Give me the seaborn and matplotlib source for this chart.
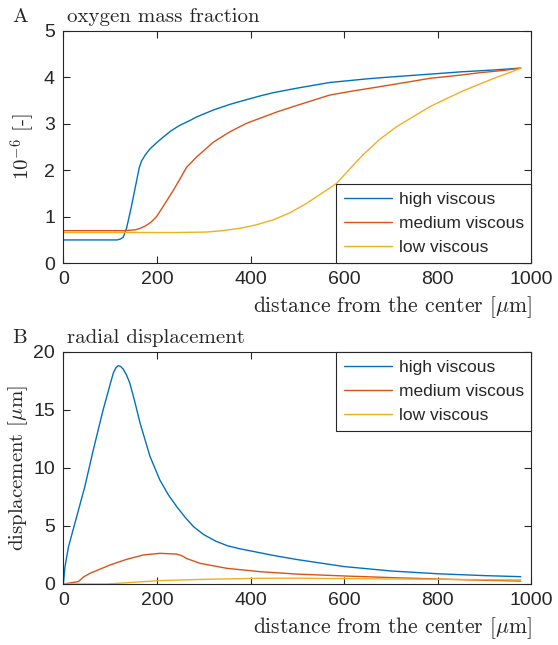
import matplotlib
matplotlib.use("Agg")
import matplotlib.pyplot as plt
import seaborn as sns

sns.set_style("ticks")
plt.rcParams['font.family'] = ['Liberation Sans', 'DejaVu Sans']
plt.rcParams['mathtext.fontset'] = 'cm'

# colours (matlab default order)
c_high = '#0072BD'
c_med = '#D95319'
c_low = '#EDB120'
dark = '#262626'

labels = ['high viscous', 'medium viscous', 'low viscous']

# --- panel A: oxygen mass fraction (x 1e-6)
xa_high = [0, 50, 100, 115, 122, 128, 135, 145, 152, 157, 162, 167, 175, 185, 200, 214, 230, 249,
           270, 285, 321, 356, 391, 420, 448, 500, 569, 650, 700, 783, 850, 920, 977]
ya_high = [0.50, 0.50, 0.50, 0.50, 0.52, 0.56, 0.75, 1.20, 1.55, 1.80, 2.05, 2.20, 2.33, 2.46, 2.60,
           2.72, 2.85, 2.97, 3.07, 3.15, 3.30, 3.42, 3.52, 3.60, 3.67, 3.77, 3.89, 3.97, 4.01, 4.07,
           4.12, 4.16, 4.20]

xa_med = [0, 50, 100, 130, 145, 155, 164, 175, 187, 199, 215, 235, 249, 263, 285, 321, 356, 391,
          420, 460, 500, 569, 620, 676, 730, 783, 840, 889, 940, 977]
ya_med = [0.70, 0.70, 0.70, 0.70, 0.71, 0.72, 0.75, 0.80, 0.88, 1.00, 1.25, 1.57, 1.81, 2.06, 2.29,
          2.61, 2.83, 3.01, 3.12, 3.27, 3.40, 3.62, 3.71, 3.80, 3.89, 3.98, 4.04, 4.10, 4.15, 4.20]

xa_low = [0, 100, 164, 240, 306, 340, 377, 410, 448, 485, 520, 550, 584, 610, 640, 675, 712, 750,
          783, 820, 854, 890, 925, 955, 977]
ya_low = [0.66, 0.66, 0.66, 0.66, 0.67, 0.70, 0.75, 0.82, 0.93, 1.09, 1.29, 1.49, 1.72, 2.01,
          2.33, 2.66, 2.94, 3.17, 3.37, 3.55, 3.71, 3.86, 4.00, 4.11, 4.20]

# --- panel B: radial displacement [um]
xb_high = [0, 3.6, 11, 28.5, 46, 64, 85, 100, 107, 112, 117, 122, 128, 135, 142, 152, 164, 185,
           206, 224, 242, 260, 278, 300, 325, 350, 375, 400, 450, 500, 550, 600, 700, 800, 900, 977]
yb_high = [0.0, 1.5, 3.2, 5.8, 8.4, 11.55, 15.0, 17.2, 18.2, 18.6, 18.8, 18.75, 18.5, 18.0, 17.3,
           15.8, 13.85, 11.0, 8.97, 7.7, 6.67, 5.75, 4.94, 4.25, 3.7, 3.3, 3.05, 2.85, 2.45, 2.1,
           1.8, 1.5, 1.12, 0.88, 0.72, 0.63]

xb_med = [0, 32, 43, 57, 100, 135, 171, 206, 242, 255, 263, 292, 349, 420, 500, 600, 700, 800, 900,
          977]
yb_med = [0.0, 0.2, 0.6, 0.92, 1.64, 2.12, 2.5, 2.64, 2.58, 2.4, 2.2, 1.78, 1.35, 1.06, 0.85,
          0.69, 0.55, 0.43, 0.32, 0.25]

xb_low = [0, 93, 206, 300, 420, 500, 600, 700, 800, 900, 977]
yb_low = [0.0, 0.0, 0.29, 0.40, 0.49, 0.50, 0.46, 0.43, 0.40, 0.37, 0.35]

fig = plt.figure(figsize=(5.58, 6.45), dpi=100)
axA = fig.add_axes([0.1135, 0.592, 0.839, 0.360])
axB = fig.add_axes([0.1135, 0.0946, 0.839, 0.360])

panels = [
    (axA, [(xa_high, ya_high), (xa_med, ya_med), (xa_low, ya_low)]),
    (axB, [(xb_high, yb_high), (xb_med, yb_med), (xb_low, yb_low)]),
]
for ax, series in panels:
    for (xs, ys), col, lab in zip(series, [c_high, c_med, c_low], labels):
        sns.lineplot(x=xs, y=ys, ax=ax, color=col, label=lab, linewidth=1.0, sort=False,
                     estimator=None)

serif = 'cmr10'
fs = 15
xlab = r'distance from the center [$\mu$m]'

axA.set_xlim(0, 1000)
axA.set_ylim(0, 5)
axA.set_yticks([0, 1, 2, 3, 4, 5])
axA.set_ylabel(r'$10^{-6}$ [-]', fontfamily=serif, fontsize=fs, color=dark, labelpad=5)
axA.text(-0.11, 1.02, 'A', transform=axA.transAxes, fontfamily=serif, fontsize=fs,
         color=dark, va='bottom', ha='left')
axA.text(0.008, 1.02, 'oxygen mass fraction', transform=axA.transAxes, fontfamily=serif,
         fontsize=fs, color=dark, va='bottom', ha='left')

axB.set_xlim(0, 1000)
axB.set_ylim(0, 20)
axB.set_yticks([0, 5, 10, 15, 20])
axB.set_ylabel(r'displacement [$\mu$m]', fontfamily=serif, fontsize=fs, color=dark,
               labelpad=2)
axB.text(-0.11, 1.02, 'B', transform=axB.transAxes, fontfamily=serif, fontsize=fs,
         color=dark, va='bottom', ha='left')
axB.text(0.008, 1.02, 'radial displacement', transform=axB.transAxes, fontfamily=serif,
         fontsize=fs, color=dark, va='bottom', ha='left')

for ax, loc in [(axA, 'lower right'), (axB, 'upper right')]:
    ax.set_xticks([0, 200, 400, 600, 800, 1000])
    ax.set_xlabel(xlab, fontfamily=serif, fontsize=15.5, color=dark, loc='right', labelpad=4)
    ax.tick_params(direction='in', top=True, right=True, length=5, width=0.8, labelsize=14,
                   colors=dark, pad=6)
    for sp in ax.spines.values():
        sp.set_visible(True)
        sp.set_color(dark)
        sp.set_linewidth(0.8)
    leg = ax.legend(loc=loc, borderaxespad=0, fancybox=False, framealpha=1, edgecolor=dark,
                    fontsize=12.5, handlelength=2.8, handletextpad=0.35, labelspacing=0.52,
                    borderpad=0.45)
    leg.get_frame().set_linewidth(0.8)
    for t in leg.get_texts():
        t.set_color(dark)

fig.savefig('out.png', dpi=100)
